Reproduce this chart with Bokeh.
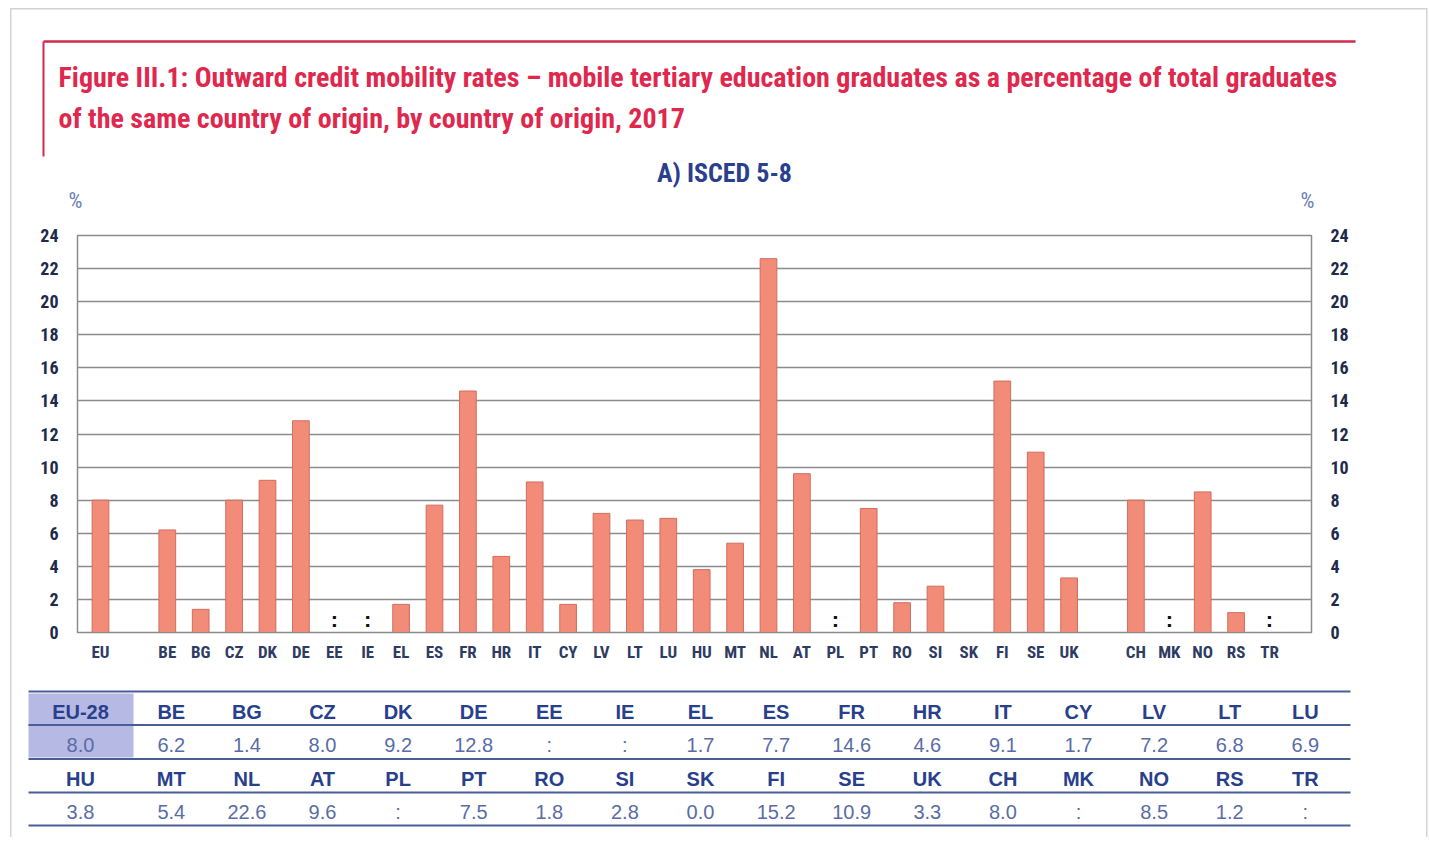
from bokeh.plotting import figure
from bokeh.layouts import column
from bokeh.models import Range1d, FixedTicker, LinearAxis
from bokeh.core.properties import value
from bokeh.embed import file_html
from bokeh.resources import INLINE

# ---------------- data ----------------
countries = ["EU", "BE", "BG", "CZ", "DK", "DE", "EE", "IE", "EL", "ES", "FR", "HR",
             "IT", "CY", "LV", "LT", "LU", "HU", "MT", "NL", "AT", "PL", "PT", "RO",
             "SI", "SK", "FI", "SE", "UK", "CH", "MK", "NO", "RS", "TR"]
groups = ["EU"] + ["MS"] * 28 + ["OTHER"] * 5
rates = [8.0, 6.2, 1.4, 8.0, 9.2, 12.8, None, None, 1.7, 7.7, 14.6, 4.6,
         9.1, 1.7, 7.2, 6.8, 6.9, 3.8, 5.4, 22.6, 9.6, None, 7.5, 1.8,
         2.8, 0.0, 15.2, 10.9, 3.3, 8.0, None, 8.5, 1.2, None]
table_names = ["EU-28"] + countries[1:]
y_ticks = list(range(0, 25, 2))

title_lines = ["Figure III.1: Outward credit mobility rates \u2013 mobile tertiary education graduates as a percentage of total graduates",
               "of the same country of origin, by country of origin, 2017"]
subtitle = "A) ISCED 5-8"

NARROW = "'Roboto Condensed', 'Noto Sans Condensed', 'Liberation Sans Narrow', Roboto"
SANS = "Liberation Sans"
W = 1429

# positions with a gap between groups
pos = []
slot = 0
prev = None
for g in groups:
    if prev is not None and g != prev:
        slot += 1
    pos.append(slot)
    slot += 1
    prev = g

BORDER = "#d2d2d2"

# ---------------- header (page coordinates) ----------------
HH = 220
hdr = figure(width=W, height=HH, x_range=Range1d(0, W), y_range=Range1d(HH, 0),
             output_backend="svg", toolbar_location=None, min_border=0)
hdr.frame_align = False
hdr.axis.visible = False
hdr.grid.visible = False
hdr.outline_line_color = None
hdr.border_fill_color = None
hdr.background_fill_color = None
hdr.segment(x0=[43], y0=[41], x1=[1355], y1=[41], line_color="#d42a4c", line_width=2.5)
hdr.segment(x0=[43], y0=[41], x1=[43], y1=[156], line_color="#d42a4c", line_width=2)
hdr.text(x=[58, 58], y=[77, 118], text=title_lines, text_font=value(NARROW),
         text_font_size="28px", text_font_style="bold", text_color="#e0284e",
         text_baseline="middle", text_align="left")
hdr.text(x=[724], y=[172], text=[subtitle], text_font=value(NARROW),
         text_font_size="26px", text_font_style="bold", text_color="#2a3f8f",
         text_baseline="middle", text_align="center")
hdr.text(x=[75, 1307], y=[200, 200], text=["%", "%"], text_font=value(NARROW),
         text_font_size="22px", text_color="#6a7db5",
         text_baseline="middle", text_align="center")

# ---------------- chart ----------------
x_left = (77 - 100) / 33.4
x_right = (1311 - 100) / 33.4
CH_TOP = 15
CH_FRAME = 397
CH_BOT = 40
p = figure(width=W, height=CH_TOP + CH_FRAME + CH_BOT,
           x_range=Range1d(x_left, x_right), y_range=Range1d(0, 24),
           output_backend="svg", toolbar_location=None,
           min_border_left=77, min_border_right=W - 1311,
           min_border_top=CH_TOP, min_border_bottom=CH_BOT)
p.frame_align = False
p.border_fill_color = None
p.outline_line_color = "#8c8c8c"
p.outline_line_width = 1.5
p.xgrid.visible = False
p.ygrid.ticker = FixedTicker(ticks=y_ticks)
p.ygrid.grid_line_color = "#8c8c8c"
p.ygrid.grid_line_width = 1.5

bx = [x for x, v in zip(pos, rates) if v is not None]
bv = [v for v in rates if v is not None]
p.vbar(x=bx, top=bv, width=0.5, fill_color="#f38b79", line_color="#cf6e5e", line_width=1)
mx = [x for x, v in zip(pos, rates) if v is None]
p.text(x=mx, y=[0.8] * len(mx), text=[":"] * len(mx), text_font=value(SANS),
       text_font_size="22px", text_font_style="bold", text_color="#111111",
       text_align="center", text_baseline="middle")

xa = p.xaxis[0]
xa.ticker = FixedTicker(ticks=pos)
xa.major_label_overrides = {x: c for x, c in zip(pos, countries)}
xa.major_tick_line_color = None
xa.minor_tick_line_color = None
xa.axis_line_color = "#8c8c8c"
xa.major_label_standoff = 3
xa.major_label_text_font = NARROW
xa.major_label_text_font_size = "17px"
xa.major_label_text_font_style = "bold"
xa.major_label_text_color = "#2e3b63"

ya = p.yaxis[0]
ra = LinearAxis()
p.add_layout(ra, "right")
for ax in (ya, ra):
    ax.ticker = FixedTicker(ticks=y_ticks)
    ax.major_tick_line_color = None
    ax.minor_tick_line_color = None
    ax.axis_line_color = "#8c8c8c"
    ax.major_label_standoff = 13
    ax.major_label_text_font = NARROW
    ax.major_label_text_font_size = "18px"
    ax.major_label_text_font_style = "bold"
    ax.major_label_text_color = "#1e2a4a"

# ---------------- table (page coordinates, offset 672) ----------------
T0 = 672
TH = 165
tb = figure(width=W, height=TH, x_range=Range1d(0, W), y_range=Range1d(T0 + TH, T0),
            output_backend="svg", toolbar_location=None, min_border=0)
tb.frame_align = False
tb.axis.visible = False
tb.grid.visible = False
tb.outline_line_color = None
tb.border_fill_color = None
tb.background_fill_color = None
tb.quad(left=[28], right=[133], top=[693], bottom=[757], fill_color="#b6b9e3", line_color=None)
line_y = [691, 724.5, 758.5, 792, 825]
tb.segment(x0=[28] * 5, y0=line_y, x1=[1350] * 5, y1=line_y, line_color="#4a5e96", line_width=2)

fmt = [":" if v is None else f"{v:.1f}" for v in rates]
ncol = 17
col_x = [80] + [170.8 + 75.6 * i for i in range(ncol - 1)]
row_y = [711, 744, 778, 811]
for r in range(2):
    names = table_names[r * ncol:(r + 1) * ncol]
    vals = fmt[r * ncol:(r + 1) * ncol]
    tb.text(x=col_x, y=[row_y[2 * r]] * ncol, text=names, text_font=value(SANS),
            text_font_size="20px", text_font_style="bold", text_color="#28408c",
            text_align="center", text_baseline="middle")
    tb.text(x=col_x, y=[row_y[2 * r + 1]] * ncol, text=vals, text_font=value(SANS),
            text_font_size="20px", text_color="#5a6ca6",
            text_align="center", text_baseline="middle")

bg = ("linear-gradient({c},{c}) 10px 8px / 1.5px 100% no-repeat, "
      "linear-gradient({c},{c}) 10px 8px / 1417px 1.5px no-repeat, "
      "linear-gradient({c},{c}) 1426px 8px / 1.5px 100% no-repeat").format(c=BORDER)
layout = column(hdr, p, tb, spacing=0, styles={"background": bg})
open("out.html", "w").write(file_html(layout, INLINE))
